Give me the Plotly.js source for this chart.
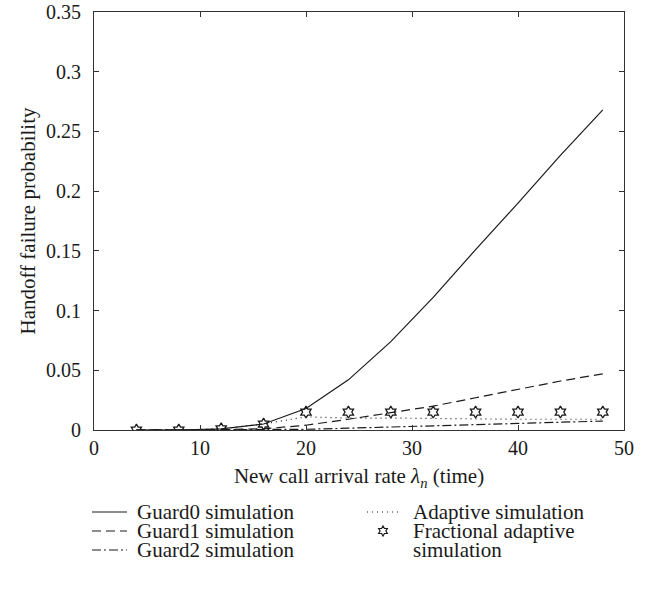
<!DOCTYPE html>
<html>
<head>
<meta charset="utf-8">
<script src="https://cdn.plot.ly/plotly-3.0.1.min.js"></script>
<style>html,body{margin:0;padding:0;background:#fff;}#chart{width:645px;height:590px;}</style>
</head>
<body>
<div id="chart"></div>
<script>
const rates = [4, 8, 12, 16, 20, 24, 28, 32, 36, 40, 44, 48];
const guard0 = [0, 0, 0.001, 0.005, 0.018, 0.042, 0.074, 0.111, 0.151, 0.190, 0.230, 0.268];
const guard1 = [0, 0, 0.0003, 0.001, 0.004, 0.009, 0.0145, 0.020, 0.027, 0.034, 0.041, 0.047];
const guard2 = [0, 0, 0, 0.0002, 0.0006, 0.0015, 0.0025, 0.0035, 0.0045, 0.0055, 0.0065, 0.0075];
const adaptive = [0, 0, 0.001, 0.005, 0.011, 0.010, 0.010, 0.0095, 0.0095, 0.009, 0.009, 0.009];
const fractional = [0, 0, 0.001, 0.005, 0.015, 0.015, 0.015, 0.015, 0.015, 0.015, 0.015, 0.015];
const seriesNames = ["Guard0 simulation", "Guard1 simulation", "Guard2 simulation", "Adaptive simulation", "Fractional adaptive", "simulation"];
const xTicks = [0, 10, 20, 30, 40, 50];
const yTicks = [0, 0.05, 0.1, 0.15, 0.2, 0.25, 0.3, 0.35];

const ink = "#1a1a1a";
const FONT = "Liberation Serif, Times New Roman, serif";
const TXT = 21;

const dashes = {g0: "solid", g1: "9px,5px", g2: "9px,3px,2px,3px", ad: "1px,4px"};

const traces = [
  {x: rates, y: guard0, name: seriesNames[0], mode: "lines", line: {color: ink, width: 1.2, dash: dashes.g0}},
  {x: rates, y: guard1, name: seriesNames[1], mode: "lines", line: {color: ink, width: 1.2, dash: dashes.g1}},
  {x: rates, y: guard2, name: seriesNames[2], mode: "lines", line: {color: ink, width: 1.2, dash: dashes.g2}},
  {x: rates, y: adaptive, name: seriesNames[3], mode: "lines", line: {color: ink, width: 1.2, dash: dashes.ad}},
  {x: rates, y: fractional, name: seriesNames[4] + " " + seriesNames[5], mode: "markers",
   marker: {symbol: "hexagram-open", size: 9, color: ink, line: {color: ink, width: 1.3}}}
];

// plot box in pixels (for placing the hand-made legend in the margin)
const L = 94, R = 21, T = 12, B = 160, W = 645, H = 590;
const pw = W - L - R, ph = H - T - B;
const px = v => (v - L) / pw;
const py = v => (H - B - v) / ph;

const rowY = [512, 531, 550];
const shapes = [];
const annotations = [];
function sample(x0, x1, y, dash) {
  shapes.push({type: "line", xref: "paper", yref: "paper", x0: px(x0), x1: px(x1), y0: py(y), y1: py(y),
    line: {color: ink, width: 1.2, dash: dash}});
}
function label(x, y, text) {
  annotations.push({xref: "paper", yref: "paper", x: px(x), y: py(y), xanchor: "left", yanchor: "middle",
    text: text, showarrow: false, borderpad: 0, font: {family: FONT, size: TXT, color: ink}});
}
sample(92, 127, rowY[0], dashes.g0); label(136, rowY[0], seriesNames[0]);
sample(92, 127, rowY[1], dashes.g1); label(136, rowY[1], seriesNames[1]);
sample(92, 127, rowY[2], dashes.g2); label(136, rowY[2], seriesNames[2]);
sample(367, 400, rowY[0], dashes.ad); label(412, rowY[0], seriesNames[3]);
label(412, rowY[1], seriesNames[4]);
label(412, rowY[2], seriesNames[5]);
// legend star (outline hexagram) drawn in pixel units
(function () {
  const Ro = 5, Ri = 5 / Math.sqrt(3);
  let p = "";
  for (let i = 0; i < 12; i++) {
    const a = Math.PI / 2 + i * Math.PI / 6;
    const r = i % 2 === 0 ? Ro : Ri;
    p += (i === 0 ? "M" : "L") + (r * Math.cos(a)).toFixed(2) + "," + (r * Math.sin(a)).toFixed(2);
  }
  p += "Z";
  shapes.push({type: "path", xref: "paper", yref: "paper", xsizemode: "pixel", ysizemode: "pixel",
    xanchor: px(383), yanchor: py(rowY[1]), path: p, line: {color: ink, width: 1.2}});
})();

const axisCommon = {
  showgrid: false, zeroline: false, showline: true, mirror: "ticks",
  linecolor: "#333", linewidth: 1, ticks: "inside", ticklen: 5, tickcolor: "#333",
  tickfont: {family: FONT, size: 20, color: ink}
};

const layout = {
  width: W, height: H,
  margin: {l: L, r: R, t: T, b: B},
  paper_bgcolor: "#fff", plot_bgcolor: "#fff",
  font: {family: FONT, size: TXT, color: ink},
  showlegend: false,
  xaxis: Object.assign({}, axisCommon, {
    range: [0, 50], tickvals: xTicks, ticktext: xTicks.map(String),
    title: {text: "New call arrival rate <i>λ</i><sub><i>n</i></sub> (time)", font: {family: FONT, size: TXT, color: ink}, standoff: 10}
  }),
  yaxis: Object.assign({}, axisCommon, {
    range: [0, 0.35], tickvals: yTicks, ticktext: yTicks.map(v => String(v)), ticklabelstandoff: 8,
    title: {text: "Handoff failure probability", font: {family: FONT, size: TXT, color: ink}, standoff: 4}
  }),
  shapes: shapes,
  annotations: annotations
};

Plotly.newPlot("chart", traces, layout, {displayModeBar: false, staticPlot: true});
</script>
</body>
</html>
